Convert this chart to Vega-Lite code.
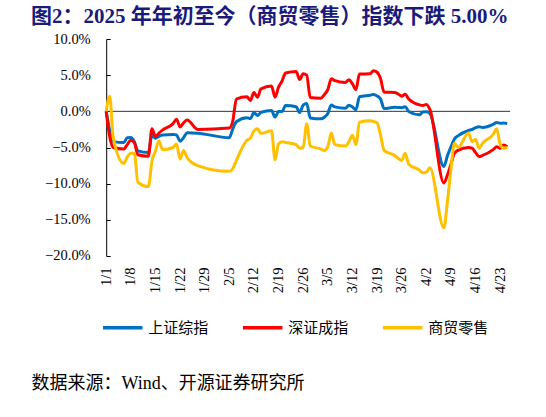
{
  "$schema": "https://vega.github.io/schema/vega-lite/v6.json",
  "width": 512.7,
  "height": 217,
  "padding": {"left": 31, "top": 6, "right": 2, "bottom": 2},
  "title": {
    "text": "图2：2025 年年初至今（商贸零售）指数下跌 5.00%",
    "anchor": "start",
    "frame": "group",
    "font": "Liberation Serif, Noto Sans CJK SC",
    "fontSize": 21,
    "fontWeight": "bold",
    "color": "#1a1a7a",
    "offset": 4
  },
  "data": {
    "values": [
      {"d": "2025-01-01", "s": "上证综指", "v": 0}, {"d": "2025-01-01", "s": "深证成指", "v": 0}, {"d": "2025-01-01", "s": "商贸零售", "v": 0},
      {"d": "2025-01-02", "s": "上证综指", "v": -2.66}, {"d": "2025-01-02", "s": "深证成指", "v": -3.5}, {"d": "2025-01-02", "s": "商贸零售", "v": 2.1},
      {"d": "2025-01-03", "s": "上证综指", "v": -4.19}, {"d": "2025-01-03", "s": "深证成指", "v": -5.0}, {"d": "2025-01-03", "s": "商贸零售", "v": -3.6},
      {"d": "2025-01-06", "s": "上证综指", "v": -4.32}, {"d": "2025-01-06", "s": "深证成指", "v": -5.2}, {"d": "2025-01-06", "s": "商贸零售", "v": -7.2},
      {"d": "2025-01-07", "s": "上证综指", "v": -3.64}, {"d": "2025-01-07", "s": "深证成指", "v": -4.6}, {"d": "2025-01-07", "s": "商贸零售", "v": -6.3},
      {"d": "2025-01-08", "s": "上证综指", "v": -3.63}, {"d": "2025-01-08", "s": "深证成指", "v": -4.0}, {"d": "2025-01-08", "s": "商贸零售", "v": -5.8},
      {"d": "2025-01-09", "s": "上证综指", "v": -4.19}, {"d": "2025-01-09", "s": "深证成指", "v": -4.3}, {"d": "2025-01-09", "s": "商贸零售", "v": -5.8},
      {"d": "2025-01-10", "s": "上证综指", "v": -5.47}, {"d": "2025-01-10", "s": "深证成指", "v": -6.0}, {"d": "2025-01-10", "s": "商贸零售", "v": -9.8},
      {"d": "2025-01-13", "s": "上证综指", "v": -5.70}, {"d": "2025-01-13", "s": "深证成指", "v": -6.2}, {"d": "2025-01-13", "s": "商贸零售", "v": -10.4},
      {"d": "2025-01-14", "s": "上证综指", "v": -3.31}, {"d": "2025-01-14", "s": "深证成指", "v": -2.4}, {"d": "2025-01-14", "s": "商贸零售", "v": -6.9},
      {"d": "2025-01-15", "s": "上证综指", "v": -3.72}, {"d": "2025-01-15", "s": "深证成指", "v": -3.5}, {"d": "2025-01-15", "s": "商贸零售", "v": -5.5},
      {"d": "2025-01-16", "s": "上证综指", "v": -3.45}, {"d": "2025-01-16", "s": "深证成指", "v": -3.0}, {"d": "2025-01-16", "s": "商贸零售", "v": -4.1},
      {"d": "2025-01-17", "s": "上证综指", "v": -3.28}, {"d": "2025-01-17", "s": "深证成指", "v": -2.6}, {"d": "2025-01-17", "s": "商贸零售", "v": -5.3},
      {"d": "2025-01-20", "s": "上证综指", "v": -3.20}, {"d": "2025-01-20", "s": "深证成指", "v": -1.7}, {"d": "2025-01-20", "s": "商贸零售", "v": -5.0},
      {"d": "2025-01-21", "s": "上证综指", "v": -3.26}, {"d": "2025-01-21", "s": "深证成指", "v": -1.1}, {"d": "2025-01-21", "s": "商贸零售", "v": -4.5},
      {"d": "2025-01-22", "s": "上证综指", "v": -4.12}, {"d": "2025-01-22", "s": "深证成指", "v": -2.15}, {"d": "2025-01-22", "s": "商贸零售", "v": -6.6},
      {"d": "2025-01-23", "s": "上证综指", "v": -3.63}, {"d": "2025-01-23", "s": "深证成指", "v": -1.6}, {"d": "2025-01-23", "s": "商贸零售", "v": -5.4},
      {"d": "2025-01-24", "s": "上证综指", "v": -2.96}, {"d": "2025-01-24", "s": "深证成指", "v": -1.2}, {"d": "2025-01-24", "s": "商贸零售", "v": -6.4},
      {"d": "2025-01-27", "s": "上证综指", "v": -3.02}, {"d": "2025-01-27", "s": "深证成指", "v": -2.5}, {"d": "2025-01-27", "s": "商贸零售", "v": -7.5},
      {"d": "2025-02-05", "s": "上证综指", "v": -3.65}, {"d": "2025-02-05", "s": "深证成指", "v": -2.3}, {"d": "2025-02-05", "s": "商贸零售", "v": -8.3},
      {"d": "2025-02-06", "s": "上证综指", "v": -2.42}, {"d": "2025-02-06", "s": "深证成指", "v": -1.3}, {"d": "2025-02-06", "s": "商贸零售", "v": -7.9},
      {"d": "2025-02-07", "s": "上证综指", "v": -1.43}, {"d": "2025-02-07", "s": "深证成指", "v": 1.7}, {"d": "2025-02-07", "s": "商贸零售", "v": -6.8},
      {"d": "2025-02-10", "s": "上证综指", "v": -0.88}, {"d": "2025-02-10", "s": "深证成指", "v": 2.0}, {"d": "2025-02-10", "s": "商贸零售", "v": -4.0},
      {"d": "2025-02-11", "s": "上证综指", "v": -1.00}, {"d": "2025-02-11", "s": "深证成指", "v": 1.5}, {"d": "2025-02-11", "s": "商贸零售", "v": -3.7},
      {"d": "2025-02-12", "s": "上证综指", "v": -0.16}, {"d": "2025-02-12", "s": "深证成指", "v": 2.6}, {"d": "2025-02-12", "s": "商贸零售", "v": -2.7},
      {"d": "2025-02-13", "s": "上证综指", "v": -0.58}, {"d": "2025-02-13", "s": "深证成指", "v": 1.95}, {"d": "2025-02-13", "s": "商贸零售", "v": -2.4},
      {"d": "2025-02-14", "s": "上证综指", "v": -0.15}, {"d": "2025-02-14", "s": "深证成指", "v": 3.1}, {"d": "2025-02-14", "s": "商贸零售", "v": -3.05},
      {"d": "2025-02-17", "s": "上证综指", "v": 0.12}, {"d": "2025-02-17", "s": "深证成指", "v": 3.5}, {"d": "2025-02-17", "s": "商贸零售", "v": -2.7},
      {"d": "2025-02-18", "s": "上证综指", "v": -0.81}, {"d": "2025-02-18", "s": "深证成指", "v": 1.95}, {"d": "2025-02-18", "s": "商贸零售", "v": -6.7},
      {"d": "2025-02-19", "s": "上证综指", "v": -0.01}, {"d": "2025-02-19", "s": "深证成指", "v": 3.35}, {"d": "2025-02-19", "s": "商贸零售", "v": -4.5},
      {"d": "2025-02-20", "s": "上证综指", "v": -0.03}, {"d": "2025-02-20", "s": "深证成指", "v": 4.2}, {"d": "2025-02-20", "s": "商贸零售", "v": -4.2},
      {"d": "2025-02-21", "s": "上证综指", "v": 0.82}, {"d": "2025-02-21", "s": "深证成指", "v": 5.3}, {"d": "2025-02-21", "s": "商贸零售", "v": -4.3},
      {"d": "2025-02-24", "s": "上证综指", "v": 0.64}, {"d": "2025-02-24", "s": "深证成指", "v": 5.5}, {"d": "2025-02-24", "s": "商贸零售", "v": -4.6},
      {"d": "2025-02-25", "s": "上证综指", "v": -0.17}, {"d": "2025-02-25", "s": "深证成指", "v": 4.4}, {"d": "2025-02-25", "s": "商贸零售", "v": -5.1},
      {"d": "2025-02-26", "s": "上证综指", "v": 0.85}, {"d": "2025-02-26", "s": "深证成指", "v": 5.2}, {"d": "2025-02-26", "s": "商贸零售", "v": -5.0},
      {"d": "2025-02-27", "s": "上证综指", "v": 1.08}, {"d": "2025-02-27", "s": "深证成指", "v": 5.0}, {"d": "2025-02-27", "s": "商贸零售", "v": -1.7},
      {"d": "2025-02-28", "s": "上证综指", "v": -0.92}, {"d": "2025-02-28", "s": "深证成指", "v": 1.9}, {"d": "2025-02-28", "s": "商贸零售", "v": -4.8},
      {"d": "2025-03-03", "s": "上证综指", "v": -1.04}, {"d": "2025-03-03", "s": "深证成指", "v": 1.8}, {"d": "2025-03-03", "s": "商贸零售", "v": -5.2},
      {"d": "2025-03-04", "s": "上证综指", "v": -0.82}, {"d": "2025-03-04", "s": "深证成指", "v": 2.3}, {"d": "2025-03-04", "s": "商贸零售", "v": -5.4},
      {"d": "2025-03-05", "s": "上证综指", "v": -0.29}, {"d": "2025-03-05", "s": "深证成指", "v": 3.0}, {"d": "2025-03-05", "s": "商贸零售", "v": -4.9},
      {"d": "2025-03-06", "s": "上证综指", "v": 0.88}, {"d": "2025-03-06", "s": "深证成指", "v": 4.5}, {"d": "2025-03-06", "s": "商贸零售", "v": -3.0},
      {"d": "2025-03-07", "s": "上证综指", "v": 0.62}, {"d": "2025-03-07", "s": "深证成指", "v": 4.25}, {"d": "2025-03-07", "s": "商贸零售", "v": -4.6},
      {"d": "2025-03-10", "s": "上证综指", "v": 0.43}, {"d": "2025-03-10", "s": "深证成指", "v": 4.0}, {"d": "2025-03-10", "s": "商贸零售", "v": -4.8},
      {"d": "2025-03-11", "s": "上证综指", "v": 0.84}, {"d": "2025-03-11", "s": "深证成指", "v": 4.35}, {"d": "2025-03-11", "s": "商贸零售", "v": -4.2},
      {"d": "2025-03-12", "s": "上证综指", "v": 0.60}, {"d": "2025-03-12", "s": "深证成指", "v": 3.8}, {"d": "2025-03-12", "s": "商贸零售", "v": -3.3},
      {"d": "2025-03-13", "s": "上证综指", "v": 0.21}, {"d": "2025-03-13", "s": "深证成指", "v": 3.0}, {"d": "2025-03-13", "s": "商贸零售", "v": -4.6},
      {"d": "2025-03-14", "s": "上证综指", "v": 2.02}, {"d": "2025-03-14", "s": "深证成指", "v": 5.15}, {"d": "2025-03-14", "s": "商贸零售", "v": -1.5},
      {"d": "2025-03-17", "s": "上证综指", "v": 2.23}, {"d": "2025-03-17", "s": "深证成指", "v": 5.2}, {"d": "2025-03-17", "s": "商贸零售", "v": -1.3},
      {"d": "2025-03-18", "s": "上证综指", "v": 2.33}, {"d": "2025-03-18", "s": "深证成指", "v": 5.6}, {"d": "2025-03-18", "s": "商贸零售", "v": -1.4},
      {"d": "2025-03-19", "s": "上证综指", "v": 2.13}, {"d": "2025-03-19", "s": "深证成指", "v": 5.4}, {"d": "2025-03-19", "s": "商贸零售", "v": -1.6},
      {"d": "2025-03-20", "s": "上证综指", "v": 1.71}, {"d": "2025-03-20", "s": "深证成指", "v": 4.5}, {"d": "2025-03-20", "s": "商贸零售", "v": -3.3},
      {"d": "2025-03-21", "s": "上证综指", "v": 0.39}, {"d": "2025-03-21", "s": "深证成指", "v": 2.65}, {"d": "2025-03-21", "s": "商贸零售", "v": -5.4},
      {"d": "2025-03-24", "s": "上证综指", "v": 0.55}, {"d": "2025-03-24", "s": "深证成指", "v": 2.6}, {"d": "2025-03-24", "s": "商贸零售", "v": -6.1},
      {"d": "2025-03-25", "s": "上证综指", "v": 0.54}, {"d": "2025-03-25", "s": "深证成指", "v": 2.4}, {"d": "2025-03-25", "s": "商贸零售", "v": -6.5},
      {"d": "2025-03-26", "s": "上证综指", "v": 0.50}, {"d": "2025-03-26", "s": "深证成指", "v": 2.1}, {"d": "2025-03-26", "s": "商贸零售", "v": -6.8},
      {"d": "2025-03-27", "s": "上证综指", "v": 0.65}, {"d": "2025-03-27", "s": "深证成指", "v": 2.35}, {"d": "2025-03-27", "s": "商贸零售", "v": -5.8},
      {"d": "2025-03-28", "s": "上证综指", "v": -0.01}, {"d": "2025-03-28", "s": "深证成指", "v": 1.7}, {"d": "2025-03-28", "s": "商贸零售", "v": -7.3},
      {"d": "2025-03-31", "s": "上证综指", "v": -0.48}, {"d": "2025-03-31", "s": "深证成指", "v": 0.9}, {"d": "2025-03-31", "s": "商贸零售", "v": -8.1},
      {"d": "2025-04-01", "s": "上证综指", "v": -0.10}, {"d": "2025-04-01", "s": "深证成指", "v": 0.8}, {"d": "2025-04-01", "s": "商贸零售", "v": -8.5},
      {"d": "2025-04-02", "s": "上证综指", "v": -0.05}, {"d": "2025-04-02", "s": "深证成指", "v": 0.95}, {"d": "2025-04-02", "s": "商贸零售", "v": -8.4},
      {"d": "2025-04-03", "s": "上证综指", "v": -0.29}, {"d": "2025-04-03", "s": "深证成指", "v": 0.3}, {"d": "2025-04-03", "s": "商贸零售", "v": -7.8},
      {"d": "2025-04-07", "s": "上证综指", "v": -7.61}, {"d": "2025-04-07", "s": "深证成指", "v": -9.9}, {"d": "2025-04-07", "s": "商贸零售", "v": -16.1},
      {"d": "2025-04-08", "s": "上证综指", "v": -6.15}, {"d": "2025-04-08", "s": "深证成指", "v": -8.8}, {"d": "2025-04-08", "s": "商贸零售", "v": -12.5},
      {"d": "2025-04-09", "s": "上证综指", "v": -4.92}, {"d": "2025-04-09", "s": "深证成指", "v": -7.3}, {"d": "2025-04-09", "s": "商贸零售", "v": -8.0},
      {"d": "2025-04-10", "s": "上证综指", "v": -3.82}, {"d": "2025-04-10", "s": "深证成指", "v": -5.8}, {"d": "2025-04-10", "s": "商贸零售", "v": -4.4},
      {"d": "2025-04-11", "s": "上证综指", "v": -3.39}, {"d": "2025-04-11", "s": "深证成指", "v": -5.4}, {"d": "2025-04-11", "s": "商贸零售", "v": -5.0},
      {"d": "2025-04-14", "s": "上证综指", "v": -2.65}, {"d": "2025-04-14", "s": "深证成指", "v": -5.0}, {"d": "2025-04-14", "s": "商贸零售", "v": -3.0},
      {"d": "2025-04-15", "s": "上证综指", "v": -2.51}, {"d": "2025-04-15", "s": "深证成指", "v": -5.1}, {"d": "2025-04-15", "s": "商贸零售", "v": -4.2},
      {"d": "2025-04-16", "s": "上证综指", "v": -2.26}, {"d": "2025-04-16", "s": "深证成指", "v": -5.7}, {"d": "2025-04-16", "s": "商贸零售", "v": -3.9},
      {"d": "2025-04-17", "s": "上证综指", "v": -2.13}, {"d": "2025-04-17", "s": "深证成指", "v": -6.25}, {"d": "2025-04-17", "s": "商贸零售", "v": -5.1},
      {"d": "2025-04-18", "s": "上证综指", "v": -2.24}, {"d": "2025-04-18", "s": "深证成指", "v": -6.1}, {"d": "2025-04-18", "s": "商贸零售", "v": -4.4},
      {"d": "2025-04-21", "s": "上证综指", "v": -1.80}, {"d": "2025-04-21", "s": "深证成指", "v": -5.3}, {"d": "2025-04-21", "s": "商贸零售", "v": -3.2},
      {"d": "2025-04-22", "s": "上证综指", "v": -1.55}, {"d": "2025-04-22", "s": "深证成指", "v": -4.9}, {"d": "2025-04-22", "s": "商贸零售", "v": -2.4},
      {"d": "2025-04-23", "s": "上证综指", "v": -1.65}, {"d": "2025-04-23", "s": "深证成指", "v": -5.1}, {"d": "2025-04-23", "s": "商贸零售", "v": -4.6},
      {"d": "2025-04-24", "s": "上证综指", "v": -1.62}, {"d": "2025-04-24", "s": "深证成指", "v": -4.65}, {"d": "2025-04-24", "s": "商贸零售", "v": -5.1},
      {"d": "2025-04-25", "s": "上证综指", "v": -1.69}, {"d": "2025-04-25", "s": "深证成指", "v": -4.9}, {"d": "2025-04-25", "s": "商贸零售", "v": -5.0}
    ]
  },
  "encoding": {
    "y": {
      "field": "v",
      "type": "quantitative",
      "scale": {"domain": [-20, 10], "nice": false},
      "axis": {
        "orient": "left",
        "offset": -75.2,
        "values": [-20, -15, -10, -5, 0, 5, 10],
        "labelExpr": "format(datum.value, '.1f') + '%'",
        "domainColor": "#000000",
        "domainWidth": 1,
        "tickColor": "#000000",
        "tickSize": -4,
        "labelPadding": 20,
        "labelFont": "Liberation Serif",
        "labelFontSize": 14.5,
        "labelColor": "#000000",
        "title": null,
        "grid": false
      }
    }
  },
  "layer": [
    {
      "encoding": {
        "x": {
          "field": "d",
          "type": "temporal",
          "scale": {"type": "utc", "domain": [{"year": 2024, "month": 12, "date": 10, "hours": 15, "utc": true}, {"year": 2025, "month": 5, "date": 5, "hours": 8, "minutes": 48, "utc": true}]},
          "axis": {
            "orient": "bottom",
            "domain": false,
            "ticks": false,
            "tickSize": 0,
            "labelAngle": 270,
            "labelPadding": 11,
            "labelFont": "Liberation Serif",
            "labelFontSize": 14.5,
            "labelColor": "#000000",
            "labelOverlap": false,
            "labelExpr": "utcFormat(datum.value, '%-m/%-d')",
            "values": [
              {"year": 2025, "month": 1, "date": 1, "utc": true}, {"year": 2025, "month": 1, "date": 8, "utc": true},
              {"year": 2025, "month": 1, "date": 15, "utc": true}, {"year": 2025, "month": 1, "date": 22, "utc": true},
              {"year": 2025, "month": 1, "date": 29, "utc": true}, {"year": 2025, "month": 2, "date": 5, "utc": true},
              {"year": 2025, "month": 2, "date": 12, "utc": true}, {"year": 2025, "month": 2, "date": 19, "utc": true},
              {"year": 2025, "month": 2, "date": 26, "utc": true}, {"year": 2025, "month": 3, "date": 5, "utc": true},
              {"year": 2025, "month": 3, "date": 12, "utc": true}, {"year": 2025, "month": 3, "date": 19, "utc": true},
              {"year": 2025, "month": 3, "date": 26, "utc": true}, {"year": 2025, "month": 4, "date": 2, "utc": true},
              {"year": 2025, "month": 4, "date": 9, "utc": true}, {"year": 2025, "month": 4, "date": 16, "utc": true},
              {"year": 2025, "month": 4, "date": 23, "utc": true}
            ],
            "grid": false,
            "title": "数据来源：Wind、开源证券研究所",
            "titleAnchor": "start",
            "titleAlign": "left",
            "titleBaseline": "top",
            "titleX": 0,
            "titleY": 119,
            "titleFont": "Liberation Serif, Noto Sans CJK SC",
            "titleFontSize": 18,
            "titleFontWeight": "normal",
            "titleColor": "#000000"
          }
        }
      },
      "layer": [
        {
          "data": {"values": [{"d": "2025-01-01", "d2": "2025-04-25T20:00:00Z", "v": 0}]},
          "mark": {"type": "rule", "color": "#333333", "strokeWidth": 1},
          "encoding": {"x2": {"field": "d2"}}
        },
        {
          "transform": [{"filter": "datum.s === '上证综指'"}],
          "mark": {"type": "line", "strokeWidth": 3, "interpolate": "monotone"},
          "encoding": {
            "color": {
              "field": "s",
              "type": "nominal",
              "scale": {"domain": ["上证综指", "深证成指", "商贸零售"], "range": ["#0070C0", "#FF0000", "#FFC000"]},
              "legend": {
                "orient": "none", "legendX": 70.2, "legendY": 267, "direction": "horizontal", "title": null,
                "symbolType": "stroke", "symbolStrokeWidth": 3.5, "symbolSize": 1560, "symbolOpacity": 1,
                "labelFont": "Noto Sans CJK SC", "labelFontSize": 15, "labelColor": "#000000", "labelOffset": 4, "columnPadding": 26
              }
            }
          }
        },
        {
          "transform": [{"filter": "datum.s === '深证成指'"}],
          "mark": {"type": "line", "strokeWidth": 3, "interpolate": "monotone"},
          "encoding": {
            "color": {
              "field": "s",
              "type": "nominal",
              "scale": {"domain": ["上证综指", "深证成指", "商贸零售"], "range": ["#0070C0", "#FF0000", "#FFC000"]},
              "legend": {
                "orient": "none", "legendX": 70.2, "legendY": 267, "direction": "horizontal", "title": null,
                "symbolType": "stroke", "symbolStrokeWidth": 3.5, "symbolSize": 1560, "symbolOpacity": 1,
                "labelFont": "Noto Sans CJK SC", "labelFontSize": 15, "labelColor": "#000000", "labelOffset": 4, "columnPadding": 26
              }
            }
          }
        },
        {
          "transform": [{"filter": "datum.s === '商贸零售'"}],
          "mark": {"type": "line", "strokeWidth": 3, "interpolate": "monotone"},
          "encoding": {
            "color": {
              "field": "s",
              "type": "nominal",
              "scale": {"domain": ["上证综指", "深证成指", "商贸零售"], "range": ["#0070C0", "#FF0000", "#FFC000"]},
              "legend": {
                "orient": "none", "legendX": 70.2, "legendY": 267, "direction": "horizontal", "title": null,
                "symbolType": "stroke", "symbolStrokeWidth": 3.5, "symbolSize": 1560, "symbolOpacity": 1,
                "labelFont": "Noto Sans CJK SC", "labelFontSize": 15, "labelColor": "#000000", "labelOffset": 4, "columnPadding": 26
              }
            }
          }
        }
      ]
    }
  ],
  "config": {
    "view": {"stroke": null},
    "background": "#ffffff"
  }
}
